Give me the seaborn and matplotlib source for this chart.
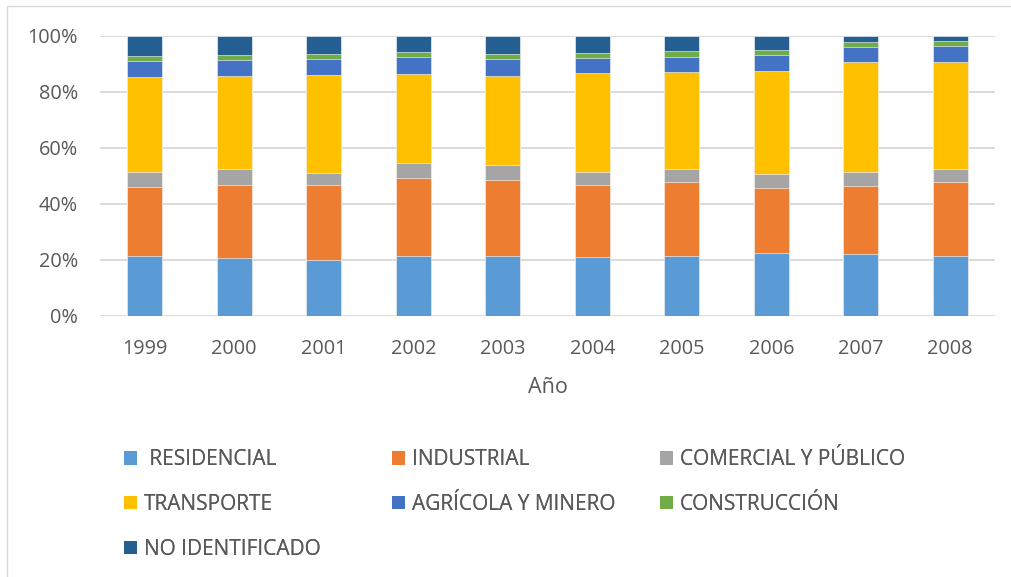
import matplotlib
matplotlib.use("Agg")
import matplotlib.pyplot as plt
import seaborn as sns
import numpy as np
import pandas as pd
from matplotlib.patches import Patch, Rectangle

years = ["1999", "2000", "2001", "2002", "2003", "2004", "2005", "2006", "2007", "2008"]
residencial = [21.4, 20.7, 19.9, 21.3, 21.2, 20.8, 21.2, 22.5, 22.1, 21.2]
industrial = [24.7, 26.1, 26.9, 28.0, 27.1, 25.7, 26.4, 23.0, 24.1, 26.4]
comercial = [5.1, 5.6, 4.3, 5.3, 5.4, 4.7, 4.9, 5.2, 5.2, 4.9]
transporte = [34.0, 33.2, 34.9, 31.8, 32.0, 35.3, 34.6, 36.8, 39.3, 38.2]
agricola = [5.9, 5.8, 5.8, 6.1, 6.1, 5.6, 5.4, 5.5, 5.3, 5.5]
construccion = [1.8, 1.8, 1.8, 1.7, 1.7, 1.8, 1.9, 1.9, 1.9, 1.9]
no_identificado = [7.1, 6.8, 6.4, 5.8, 6.5, 6.1, 5.6, 5.1, 2.1, 1.9]

series_names = [" RESIDENCIAL", "INDUSTRIAL", "COMERCIAL Y PÚBLICO", "TRANSPORTE",
                "AGRÍCOLA Y MINERO", "CONSTRUCCIÓN", "NO IDENTIFICADO"]
series_values = [residencial, industrial, comercial, transporte, agricola, construccion, no_identificado]
colors = ["#5B9BD5", "#ED7D31", "#A5A5A5", "#FFC000", "#4472C4", "#70AD47", "#255E91"]

sns.set_theme(style="white")
plt.rcParams["font.family"] = ["Open Sans", "DejaVu Sans"]
text_color = "#595959"

fig = plt.figure(figsize=(10.11, 5.77), dpi=100)
W, H = 1011, 577
ax = fig.add_axes([100 / W, 1 - 315.7 / H, 895 / W, 280 / H])

# normalise to 100%
arr = np.array(series_values, dtype=float)
arr = arr / arr.sum(axis=0) * 100
cum = np.cumsum(arr, axis=0)

for i in range(len(series_names) - 1, -1, -1):
    df = pd.DataFrame({"year": years, "value": cum[i]})
    sns.barplot(data=df, x="year", y="value", color=colors[i], saturation=1,
                width=0.395, ax=ax, order=years, edgecolor="white", linewidth=0.4, zorder=3)

ax.set_ylim(0, 100)
ax.set_xlim(-0.5, len(years) - 0.5)
ax.set_yticks([0, 20, 40, 60, 80, 100])
ax.set_yticklabels([f"{v}%" for v in [0, 20, 40, 60, 80, 100]])
ax.yaxis.grid(True, color="#D9D9D9", linewidth=1.3, zorder=0)
ax.set_axisbelow(True)
for s in ax.spines.values():
    s.set_visible(False)
ax.tick_params(axis="y", length=0, pad=16, labelsize=14.3, labelcolor=text_color)
ax.tick_params(axis="x", length=0, pad=16.6, labelsize=14.3, labelcolor=text_color)
ax.set_ylabel("")
ax.set_xlabel("Año", fontsize=15.5, color=text_color, labelpad=13)

# legend in three columns
handles = [Patch(facecolor=c, edgecolor="none") for c in colors]
cols = [[0, 3, 6], [1, 4], [2, 5]]
col_x = [118, 386, 654]
for cx, idxs in zip(col_x, cols):
    leg = fig.legend([handles[i] for i in idxs], [series_names[i] for i in idxs],
                     loc="upper left", bbox_to_anchor=(cx / W, 1 - 443 / H),
                     frameon=False, fontsize=15, labelcolor=text_color,
                     handlelength=0.6, handleheight=0.6, handletextpad=0.35,
                     labelspacing=1.14, borderaxespad=0, borderpad=0.3)
    fig.add_artist(leg)

# chart border
fig.add_artist(Rectangle((7 / W, -0.05), 1.2, (1 - 6 / H) + 0.05, transform=fig.transFigure,
                         fill=False, edgecolor="#D9D9D9", linewidth=1.0))

fig.savefig("out.png", dpi=100)
